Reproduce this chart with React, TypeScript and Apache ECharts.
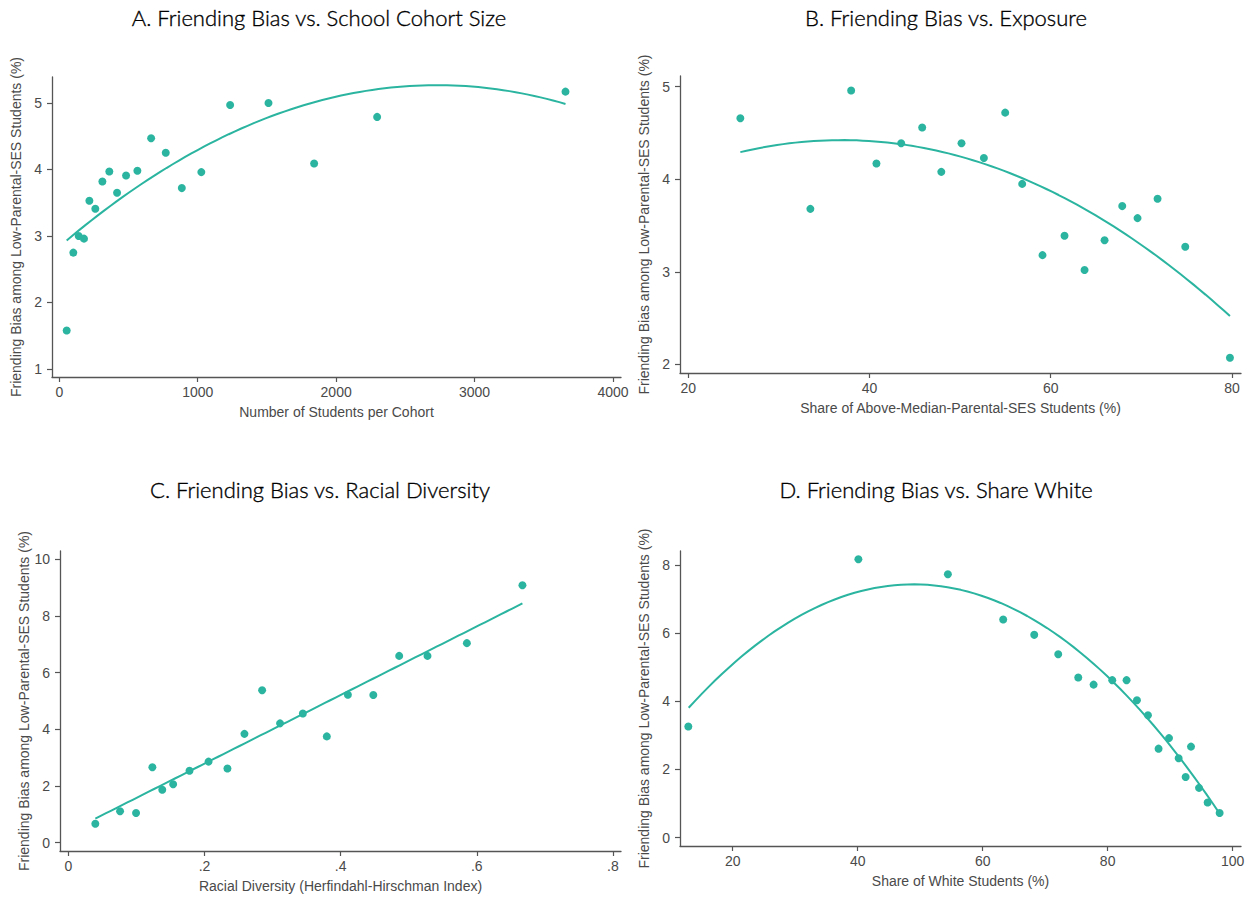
import React, { useEffect, useRef } from 'react';
import * as echarts from 'echarts';

const TEAL = '#2bb5a0';
const AXIS_COLOR = '#555555';
const TEXT_COLOR = '#4a4a4a';
const TICK_FONT = '"Liberation Sans", Arial, Helvetica, sans-serif';
const TITLE_FONT = 'Lato, "Open Sans", sans-serif';
const Y_NAME = 'Friending Bias among Low-Parental-SES Students (%)';

// A. Cohort size (binned means)
const cohortSize = [53, 101, 140, 178, 217, 260, 311, 361, 417, 482, 564, 663, 769, 885, 1026, 1234, 1511, 1841, 2296, 3657];
const biasBySize = [1.58, 2.75, 3.0, 2.96, 3.53, 3.41, 3.82, 3.97, 3.65, 3.91, 3.98, 4.47, 4.25, 3.72, 3.96, 4.97, 5.0, 4.09, 4.79, 5.17];
// points along the fitted quadratic
const sizeFitX = [53, 1005, 1511, 1957, 2294, 2703, 3137, 3657];
const sizeFitY = [2.93, 4.30, 4.80, 5.08, 5.17, 5.27, 5.23, 4.98];
const sizeTicks = [0, 1000, 2000, 3000, 4000];
const sizeBiasTicks = [1, 2, 3, 4, 5];

// B. Exposure to above-median-SES peers
const exposureShare = [25.74, 33.47, 37.97, 40.76, 43.49, 45.81, 47.92, 50.15, 52.62, 54.97, 56.85, 59.09, 61.52, 63.73, 65.94, 67.89, 69.58, 71.79, 74.85, 79.78];
const biasByExposure = [4.66, 3.68, 4.96, 4.17, 4.39, 4.56, 4.08, 4.39, 4.23, 4.72, 3.95, 3.18, 3.39, 3.02, 3.34, 3.71, 3.58, 3.79, 3.27, 2.07];
const exposureFitX = [25.74, 36.01, 43.49, 46.69, 56.85, 63.62, 67.89, 74.85, 79.78];
const exposureFitY = [4.30, 4.42, 4.37, 4.32, 4.0, 3.70, 3.45, 2.93, 2.51];
const exposureTicks = [20, 40, 60, 80];
const exposureBiasTicks = [2, 3, 4, 5];

// C. Racial diversity (HHI)
const diversityIndex = [0.0397, 0.076, 0.0995, 0.1235, 0.138, 0.154, 0.178, 0.206, 0.2337, 0.2587, 0.2847, 0.311, 0.3445, 0.3797, 0.4106, 0.448, 0.486, 0.5276, 0.5854, 0.667];
const biasByDiversity = [0.67, 1.11, 1.05, 2.66, 1.87, 2.06, 2.54, 2.86, 2.62, 3.84, 5.38, 4.21, 4.56, 3.75, 5.22, 5.21, 6.59, 6.59, 7.04, 9.08];
const diversityFitX = [0.0397, 0.667];
const diversityFitY = [0.85, 8.44];
const diversityTicks = [0, 0.2, 0.4, 0.6, 0.8];
const diversityBiasTicks = [0, 2, 4, 6, 8, 10];

// D. Share of white students
const whiteShare = [12.89, 40.11, 54.43, 63.28, 68.25, 72.09, 75.29, 77.75, 80.74, 83.03, 84.69, 86.45, 88.15, 89.82, 91.36, 92.48, 93.34, 94.62, 96.0, 97.92];
const biasByWhite = [3.26, 8.17, 7.73, 6.4, 5.95, 5.38, 4.7, 4.49, 4.62, 4.62, 4.03, 3.59, 2.61, 2.92, 2.33, 1.78, 2.67, 1.46, 1.03, 0.72];
const whiteFitX = [12.95, 20.05, 30.25, 40.11, 48.66, 54.8, 63.28, 72.09, 80.74, 91.36, 97.92];
const whiteFitY = [3.81, 5.06, 6.52, 7.23, 7.42, 7.31, 6.82, 5.91, 4.66, 2.37, 0.70];
const whiteTicks = [20, 40, 60, 80, 100];
const whiteBiasTicks = [0, 2, 4, 6, 8];

// Least-squares polynomial (x rescaled for numerical stability)
function polyFit(xs: number[], ys: number[], deg: number): (x: number) => number {
  const s = Math.max(...xs.map(Math.abs));
  const n = deg + 1;
  const m: number[][] = Array.from({ length: n }, () => new Array(n + 1).fill(0));
  xs.forEach((xRaw, i) => {
    const x = xRaw / s;
    for (let r = 0; r < n; r++) {
      for (let c = 0; c < n; c++) m[r][c] += Math.pow(x, r + c);
      m[r][n] += ys[i] * Math.pow(x, r);
    }
  });
  for (let col = 0; col < n; col++) {
    let piv = col;
    for (let r = col + 1; r < n; r++) if (Math.abs(m[r][col]) > Math.abs(m[piv][col])) piv = r;
    [m[col], m[piv]] = [m[piv], m[col]];
    for (let r = 0; r < n; r++) {
      if (r === col) continue;
      const f = m[r][col] / m[col][col];
      for (let c = col; c <= n; c++) m[r][c] -= f * m[col][c];
    }
  }
  const coef = m.map((row, i) => row[n] / row[i]);
  return (xRaw: number) => {
    const x = xRaw / s;
    return coef.reduce((acc, c, i) => acc + c * Math.pow(x, i), 0);
  };
}

// Smooth curve through the fit points, spanning their x range
function fitLine(xs: number[], ys: number[], deg: number): number[][] {
  const f = polyFit(xs, ys, deg);
  const lo = Math.min(...xs);
  const hi = Math.max(...xs);
  const steps = 80;
  const pts: number[][] = [];
  for (let i = 0; i <= steps; i++) {
    const x = lo + ((hi - lo) * i) / steps;
    pts.push([x, f(x)]);
  }
  return pts;
}

const zip = (xs: number[], ys: number[]) => xs.map((x, i) => [x, ys[i]]);

const stripZero = (v: number) => (v === 0 ? '0' : String(+v.toFixed(2)).replace(/^0\./, '.'));

interface Panel {
  title: string;
  titleX: number;
  titleY: number;
  xName: string;
  grid: { left: number; top: number; width: number; height: number };
  xMin: number; xMax: number; xTicks: number[];
  yMin: number; yMax: number; yTicks: number[];
  xs: number[]; ys: number[];
  fitX: number[]; fitY: number[]; deg: number;
  fmt?: (v: number) => string;
}

const panels: Panel[] = [
  {
    title: 'A. Friending Bias vs. School Cohort Size', titleX: 319, titleY: 17,
    xName: 'Number of Students per Cohort',
    grid: { left: 52, top: 77, width: 569, height: 300 },
    xMin: -53, xMax: 4058, xTicks: sizeTicks,
    yMin: 0.88, yMax: 5.39, yTicks: sizeBiasTicks,
    xs: cohortSize, ys: biasBySize, fitX: sizeFitX, fitY: sizeFitY, deg: 2,
  },
  {
    title: 'B. Friending Bias vs. Exposure', titleX: 946, titleY: 17,
    xName: 'Share of Above-Median-Parental-SES Students (%)',
    grid: { left: 680, top: 76, width: 561, height: 297 },
    xMin: 19.08, xMax: 81.0, xTicks: exposureTicks,
    yMin: 1.906, yMax: 5.116, yTicks: exposureBiasTicks,
    xs: exposureShare, ys: biasByExposure, fitX: exposureFitX, fitY: exposureFitY, deg: 2,
  },
  {
    title: 'C. Friending Bias vs. Racial Diversity', titleX: 320, titleY: 489,
    xName: 'Racial Diversity (Herfindahl-Hirschman Index)',
    grid: { left: 60, top: 551, width: 561, height: 300 },
    xMin: -0.0122, xMax: 0.8118, xTicks: diversityTicks,
    yMin: -0.293, yMax: 10.29, yTicks: diversityBiasTicks,
    xs: diversityIndex, ys: biasByDiversity, fitX: diversityFitX, fitY: diversityFitY, deg: 1,
    fmt: stripZero,
  },
  {
    title: 'D. Friending Bias vs. Share White', titleX: 936, titleY: 489,
    xName: 'Share of White Students (%)',
    grid: { left: 680, top: 551, width: 561, height: 295 },
    xMin: 11.56, xMax: 101.34, xTicks: whiteTicks,
    yMin: -0.246, yMax: 8.41, yTicks: whiteBiasTicks,
    xs: whiteShare, ys: biasByWhite, fitX: whiteFitX, fitY: whiteFitY, deg: 2,
  },
];

const axisLine = { show: true, onZero: false, lineStyle: { color: AXIS_COLOR, width: 1.3 } };
const tickLabelStyle = { color: TEXT_COLOR, fontSize: 14, fontFamily: TICK_FONT };

function buildOption(): echarts.EChartsCoreOption {
  return {
    animation: false,
    backgroundColor: '#ffffff',
    grid: panels.map((p) => ({ ...p.grid, containLabel: false })),
    xAxis: panels.map((p, i) => ({
      type: 'value',
      gridIndex: i,
      min: p.xMin,
      max: p.xMax,
      axisLine,
      axisTick: { show: true, length: 5, customValues: p.xTicks, lineStyle: { color: AXIS_COLOR, width: 1.2 } },
      axisLabel: { ...tickLabelStyle, margin: 8, customValues: p.xTicks, formatter: p.fmt ?? ((v: number) => String(v)) },
      splitLine: { show: false },
      name: p.xName,
      nameLocation: 'middle',
      nameGap: 28,
      nameTextStyle: { ...tickLabelStyle },
    })),
    yAxis: panels.map((p, i) => ({
      type: 'value',
      gridIndex: i,
      min: p.yMin,
      max: p.yMax,
      axisLine,
      axisTick: { show: true, length: 5, customValues: p.yTicks, lineStyle: { color: AXIS_COLOR, width: 1.2 } },
      axisLabel: { ...tickLabelStyle, margin: 10, customValues: p.yTicks, formatter: (v: number) => String(v) },
      splitLine: { show: false },
      name: Y_NAME,
      nameLocation: 'middle',
      nameGap: 29,
      nameTextStyle: { ...tickLabelStyle },
    })),
    series: panels.flatMap((p, i) => [
      {
        type: 'line',
        xAxisIndex: i,
        yAxisIndex: i,
        data: fitLine(p.fitX, p.fitY, p.deg),
        showSymbol: false,
        lineStyle: { color: TEAL, width: 2 },
        silent: true,
        z: 2,
      },
      {
        type: 'scatter',
        xAxisIndex: i,
        yAxisIndex: i,
        data: zip(p.xs, p.ys),
        symbolSize: 8,
        itemStyle: { color: TEAL, opacity: 1 },
        z: 3,
      },
    ]),
    graphic: panels.map((p) => ({
      type: 'text',
      x: p.titleX,
      y: p.titleY,
      style: {
        text: p.title,
        align: 'center',
        verticalAlign: 'middle',
        fill: '#000000',
        fontSize: 22,
        fontWeight: 300,
        fontFamily: TITLE_FONT,
        stroke: '#000000',
        lineWidth: 0.35,
      },
    })),
  };
}

export default function App() {
  const ref = useRef<HTMLDivElement>(null);
  useEffect(() => {
    if (!ref.current) return;
    const chart = echarts.init(ref.current, undefined, { renderer: 'svg' });
    chart.setOption(buildOption());
    return () => chart.dispose();
  }, []);
  return (
    <div
      ref={ref}
      style={{ position: 'fixed', left: 0, top: 0, width: 1258, height: 899, background: '#fff' }}
    />
  );
}
